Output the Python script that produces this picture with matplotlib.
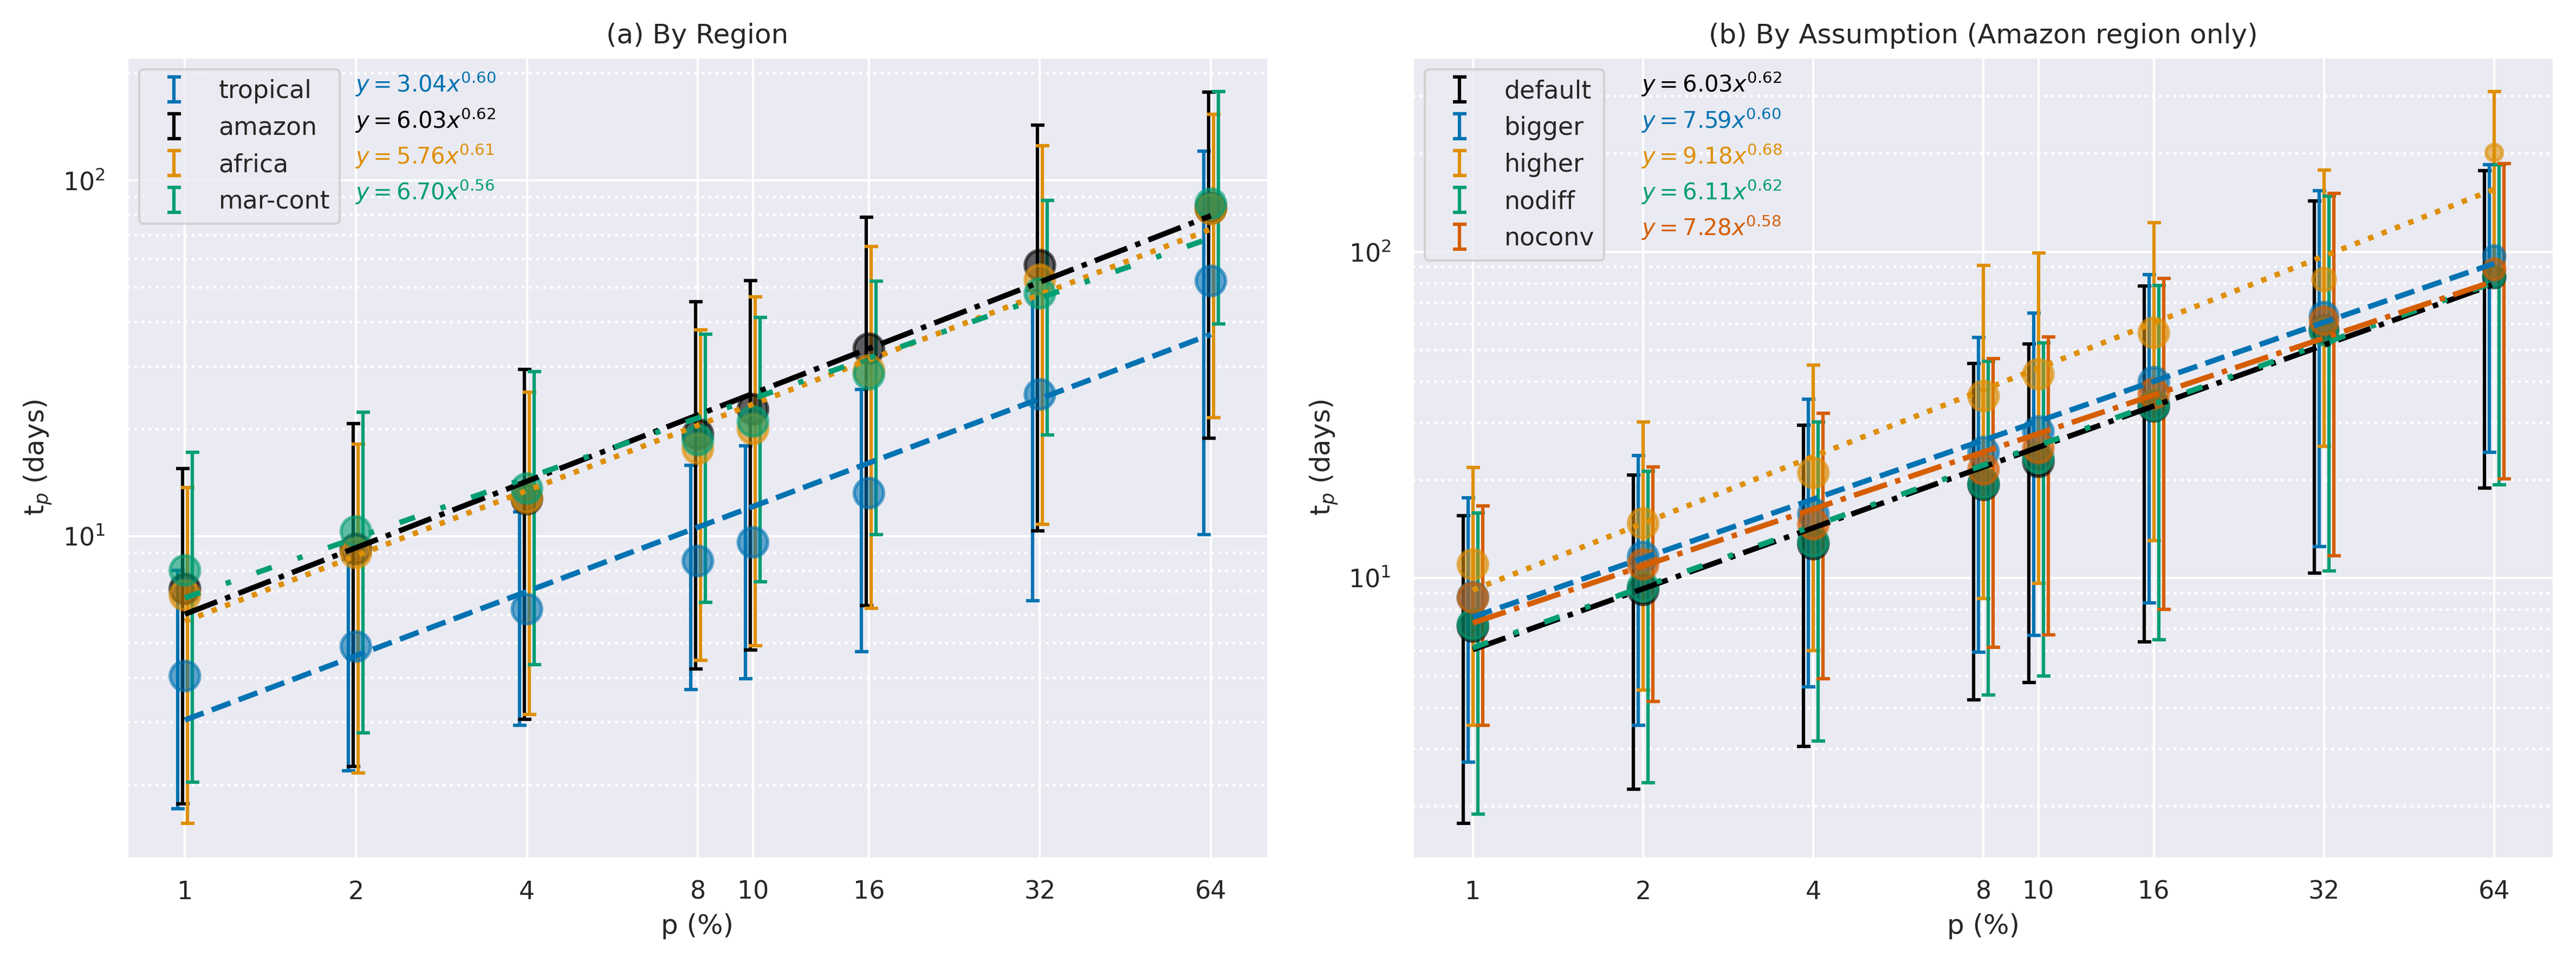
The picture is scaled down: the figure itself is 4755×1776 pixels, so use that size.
import numpy as np
import matplotlib
matplotlib.use("Agg")
import matplotlib.pyplot as plt
import seaborn as sns
from matplotlib.ticker import FixedLocator, FixedFormatter, NullLocator

sns.set_theme(style="darkgrid", context="notebook")
plt.rcParams["font.family"] = ["DejaVu Sans"]

# ---------------- data ----------------
p_values = [1, 2, 4, 8, 10, 16, 32, 64]
p_labels = ["1", "2", "4", "8", "10", "16", "32", "64"]

# panel (a): by region  (median, lower, upper)
tropical_med = [4.04, 4.89, 6.23, 8.51, 9.6, 13.2, 25.0, 52.1]
tropical_low = [1.71, 2.19, 2.94, 3.70, 3.97, 4.73, 6.58, 10.1]
tropical_high = [8.0, 8.6, 11.7, 15.8, 17.9, 25.8, 49.1, 120.7]

amazon_med = [7.1, 9.2, 12.7, 19.3, 22.7, 33.6, 57.7, 83.5]
amazon_low = [1.77, 2.25, 3.05, 4.23, 4.78, 6.38, 10.35, 18.85]
amazon_high = [15.5, 20.7, 29.4, 45.5, 52.2, 78.6, 142.8, 177.0]

africa_med = [6.82, 8.96, 12.8, 17.6, 20.0, 29.2, 52.5, 83.0]
africa_low = [1.56, 2.16, 3.15, 4.47, 4.91, 6.27, 10.8, 21.5]
africa_high = [13.7, 18.1, 25.4, 38.0, 47.0, 65.1, 124.8, 153.0]

marcont_med = [8.0, 10.3, 13.6, 18.6, 21.0, 28.5, 48.1, 85.9]
marcont_low = [2.03, 2.80, 4.35, 6.51, 7.45, 10.1, 19.2, 39.4]
marcont_high = [17.2, 22.3, 29.0, 36.9, 41.2, 52.1, 87.7, 177.4]

region_names = ["tropical", "amazon", "africa", "mar-cont"]
region_fit_a = [3.04, 6.03, 5.76, 6.70]
region_fit_b = [0.60, 0.62, 0.61, 0.56]

# panel (b): by assumption (Amazon region only)
default_med = amazon_med
default_low = amazon_low
default_high = amazon_high

bigger_med = [8.73, 11.6, 15.7, 24.3, 28.1, 39.8, 63.5, 96.8]
bigger_low = [2.73, 3.54, 4.63, 5.93, 6.67, 8.4, 12.5, 24.3]
bigger_high = [17.6, 23.7, 35.3, 54.5, 64.7, 85.1, 154.0, 185.0]

higher_med = [11.0, 14.7, 21.0, 36.1, 42.1, 56.4, 82.1, 201.0]
higher_low = [3.54, 4.54, 6.0, 8.64, 9.62, 13.0, 25.3, 90.0]
higher_high = [21.8, 30.1, 44.9, 90.6, 98.9, 122.6, 178.0, 309.0]

nodiff_med = [7.2, 9.4, 12.9, 19.5, 23.3, 33.8, 57.0, 84.0]
nodiff_low = [1.89, 2.36, 3.16, 4.38, 5.01, 6.47, 10.5, 19.3]
nodiff_high = [15.8, 21.2, 30.1, 46.2, 52.6, 78.9, 148.0, 185.0]

noconv_med = [8.7, 11.0, 14.6, 21.5, 25.0, 36.7, 61.3, 88.3]
noconv_low = [3.54, 4.18, 4.92, 6.12, 6.7, 8.0, 11.7, 20.1]
noconv_high = [16.6, 21.9, 32.0, 47.1, 54.7, 82.7, 151.0, 186.0]

assumption_names = ["default", "bigger", "higher", "nodiff", "noconv"]
assumption_fit_a = [6.03, 7.59, 9.18, 6.11, 7.28]
assumption_fit_b = [0.62, 0.60, 0.68, 0.62, 0.58]

# relative marker weight (panel b: fewer samples at large p)
region_weight = [1, 1, 1, 1, 1, 1, 1, 1]
assumption_weight = [1, 1, 1, 1, 1, 1, 0.87, 0.51]
higher_weight = [1, 1, 1, 1, 1, 1, 0.59, 0.32]

# ---------------- style ----------------
cb = sns.color_palette("colorblind")
BLUE, ORANGE, GREEN, RED = cb[0], cb[1], cb[2], cb[3]
DASHDOTTED = (0, (3, 5, 1, 5))

region_colors = [BLUE, "black", ORANGE, GREEN]
region_styles = ["--", "-.", ":", DASHDOTTED]
assumption_colors = ["black", BLUE, ORANGE, GREEN, RED]
assumption_styles = ["-.", "--", ":", DASHDOTTED, "-."]

BASE_S = 170

fig = plt.figure(figsize=(15.85, 5.92), dpi=300)
ax1 = fig.add_axes([0.0492, 0.1075, 0.4431, 0.8333])
ax2 = fig.add_axes([0.5483, 0.1075, 0.4431, 0.8333])


def draw_panel(ax, names, meds, lows, highs, weights, colors, styles, fit_a, fit_b):
    n = len(names)
    x = np.array(p_values, dtype=float)
    for i in range(n):
        med = np.array(meds[i])
        lo = np.array(lows[i])
        hi = np.array(highs[i])
        xo = x * 1.02 ** (i - (n - 1) / 2)
        ax.errorbar(xo, med, yerr=[med - lo, hi - med], fmt="none",
                    ecolor=colors[i], elinewidth=1.5, capsize=3,
                    capthick=1.5, label=names[i], zorder=2)
        ax.scatter(x, med, s=BASE_S * np.array(weights[i]), color=colors[i],
                   edgecolors=colors[i], linewidths=1.5, alpha=0.6, zorder=3)
        xf = np.array([p_values[0], p_values[-1]], dtype=float)
        ax.plot(xf, fit_a[i] * xf ** fit_b[i], color=colors[i],
                linestyle=styles[i], linewidth=2.4, zorder=4)
        ax.text(0.2, 0.966 - 0.0448 * i,
                rf"$y = {fit_a[i]:.2f}x^{{{fit_b[i]:.2f}}}$",
                transform=ax.transAxes, color=colors[i], fontsize=10,
                va="center", ha="left")
    ax.set_xscale("log", base=2)
    ax.set_yscale("log")
    ax.xaxis.set_major_locator(FixedLocator(p_values))
    ax.xaxis.set_major_formatter(FixedFormatter(p_labels))
    ax.xaxis.set_minor_locator(NullLocator())
    ax.grid(True, which="major", color="white", linewidth=1.0)
    ax.yaxis.grid(True, which="minor", color="white", linestyle=":", linewidth=1.2)
    ax.set_xlabel("p (%)")
    ax.set_ylabel("t$_p$ (days)")
    ax.legend(loc="upper left", fontsize=11)


draw_panel(ax1, region_names,
           [tropical_med, amazon_med, africa_med, marcont_med],
           [tropical_low, amazon_low, africa_low, marcont_low],
           [tropical_high, amazon_high, africa_high, marcont_high],
           [region_weight] * 4, region_colors, region_styles,
           region_fit_a, region_fit_b)
ax1.set_xlim(2 ** -0.34, 2 ** 6.335)
ax1.set_ylim(1.24, 222)
ax1.set_title("(a) By Region", fontsize=12)

draw_panel(ax2, assumption_names,
           [default_med, bigger_med, higher_med, nodiff_med, noconv_med],
           [default_low, bigger_low, higher_low, nodiff_low, noconv_low],
           [default_high, bigger_high, higher_high, nodiff_high, noconv_high],
           [assumption_weight, assumption_weight, higher_weight,
            assumption_weight, assumption_weight],
           assumption_colors, assumption_styles,
           assumption_fit_a, assumption_fit_b)
ax2.set_xlim(2 ** -0.355, 2 ** 6.35)
ax2.set_ylim(1.38, 395)
ax2.set_title("(b) By Assumption (Amazon region only)", fontsize=12)

fig.savefig("out.png", dpi=300)
